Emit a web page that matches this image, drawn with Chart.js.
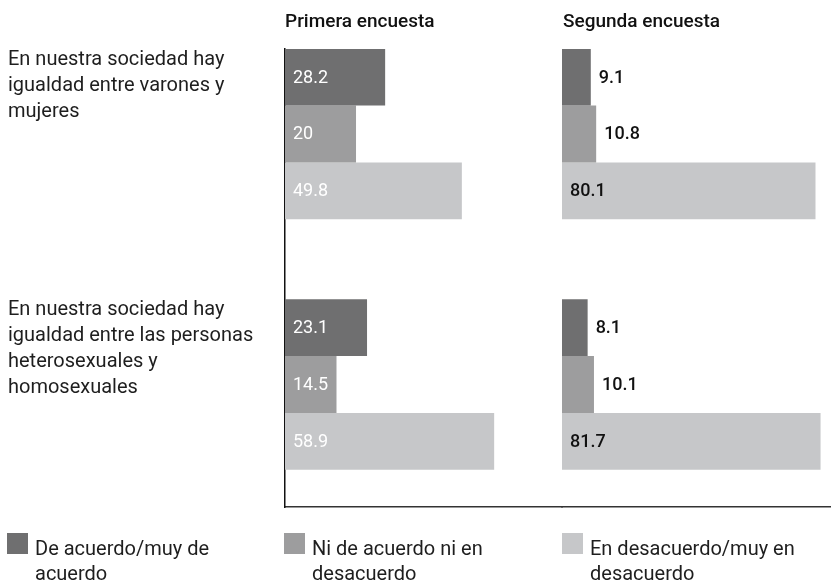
<!DOCTYPE html>
<html>
<head>
<meta charset="utf-8">
<script src="https://cdn.jsdelivr.net/npm/chart.js@4"></script>
<style>
  body { margin: 0; background: #fff; font-family: Roboto, sans-serif; color: #1e1e1e; }
  #wrap { position: relative; width: 831px; height: 581px; overflow: hidden; }
  canvas { position: absolute; left: 0; top: 0; }
  .txt { position: absolute; white-space: nowrap; }
  .title { font-size: 19px; font-weight: 500; line-height: 22px; color: #111; }
  .cat { font-size: 20px; line-height: 26px; }
  .leg { font-size: 20px; line-height: 25px; }
  .sw { position: absolute; width: 21px; height: 21px; }
</style>
</head>
<body>
<div id="wrap">
  <canvas id="c1" width="831" height="581"></canvas>
  <canvas id="c2" width="831" height="581"></canvas>
</div>
<script>
// categories (as printed, one line per entry)
const categories = [
  ['En nuestra sociedad hay', 'igualdad entre varones y', 'mujeres'],
  ['En nuestra sociedad hay', 'igualdad entre las personas', 'heterosexuales y', 'homosexuales']
];
const panelTitles = ['Primera encuesta', 'Segunda encuesta'];
const seriesNames = [
  ['De acuerdo/muy de', 'acuerdo'],
  ['Ni de acuerdo ni en', 'desacuerdo'],
  ['En desacuerdo/muy en', 'desacuerdo']
];
const colors = ['#6f6f70', '#9d9d9e', '#c6c7c9'];

// values (%)
const primeraDeAcuerdo = [28.2, 23.1];
const primeraNi = [20, 14.5];
const primeraDesacuerdo = [49.8, 58.9];

const segundaDeAcuerdo = [9.1, 8.1];
const segundaNi = [10.8, 10.1];
const segundaDesacuerdo = [80.1, 81.7];

const wrap = document.getElementById('wrap');
function addText(cls, html, left, top) {
  const d = document.createElement('div');
  d.className = 'txt ' + cls;
  d.innerHTML = html;
  d.style.left = left + 'px';
  d.style.top = top + 'px';
  wrap.appendChild(d);
}

addText('title', panelTitles[0], 285, 10);
addText('title', panelTitles[1], 563, 10);
addText('cat', categories[0].join('<br>'), 8, 45);
addText('cat', categories[1].join('<br>'), 8, 295);

const legX = [7, 284, 562];
seriesNames.forEach((name, i) => {
  const sw = document.createElement('div');
  sw.className = 'sw';
  sw.style.left = legX[i] + 'px';
  sw.style.top = '533px';
  sw.style.background = colors[i];
  wrap.appendChild(sw);
  addText('leg', name.join('<br>'), legX[i] + 28, 536);
});

const toPoints = arr => arr.map((v, i) => ({ x: v, y: i }));

// value labels on the bars
const barLabels = {
  id: 'barLabels',
  afterDatasetsDraw(chart, args, opts) {
    const ctx = chart.ctx;
    ctx.save();
    ctx.font = (opts.weight || 400) + ' 18px Roboto, sans-serif';
    ctx.textBaseline = 'middle';
    ctx.textAlign = 'left';
    chart.data.datasets.forEach((ds, di) => {
      chart.getDatasetMeta(di).data.forEach((el, i) => {
        const v = ds.data[i].x;
        const w = el.x - el.base;
        let x = el.base + 8;
        if (opts.outside && w < 40) x = el.x + 8;
        ctx.fillStyle = opts.color;
        ctx.fillText(String(v), x, el.y + 1);
      });
    });
    ctx.restore();
  }
};

function makeChart(id, data, xMax, padLeft, padRight, showY, labelOpts) {
  return new Chart(document.getElementById(id), {
    type: 'bar',
    data: {
      datasets: data.map((d, i) => ({
        label: seriesNames[i].join(' '),
        data: toPoints(d),
        backgroundColor: colors[i],
        borderWidth: 0,
        categoryPercentage: 0.68,
        barPercentage: 1
      }))
    },
    options: {
      indexAxis: 'y',
      responsive: false,
      animation: false,
      layout: { padding: { left: padLeft, right: padRight, top: 49, bottom: 74 } },
      plugins: { legend: { display: false }, tooltip: { enabled: false }, barLabels: labelOpts },
      scales: {
        x: {
          type: 'linear', min: 0, max: xMax,
          grid: { display: false, drawTicks: false },
          ticks: { display: false },
          border: { display: true, color: '#333', width: 1.5 }
        },
        y: {
          type: 'linear', reverse: true, offset: false, min: -0.3393, max: 1.489,
          afterBuildTicks: s => { s.ticks = categories.map((c, i) => ({ value: i })); },
          grid: { display: false, drawTicks: false, offset: false },
          ticks: { display: false },
          border: { display: showY, color: '#111', width: 1.5 }
        }
      }
    },
    plugins: [barLabels]
  });
}

makeChart('c1', [primeraDeAcuerdo, primeraNi, primeraDesacuerdo], 78, 285, 269, true,
  { color: '#ffffff', outside: false, weight: 400 });
makeChart('c2', [segundaDeAcuerdo, segundaNi, segundaDesacuerdo], 85, 562, 0, false,
  { color: '#111111', outside: true, weight: 500 });
</script>
</body>
</html>
